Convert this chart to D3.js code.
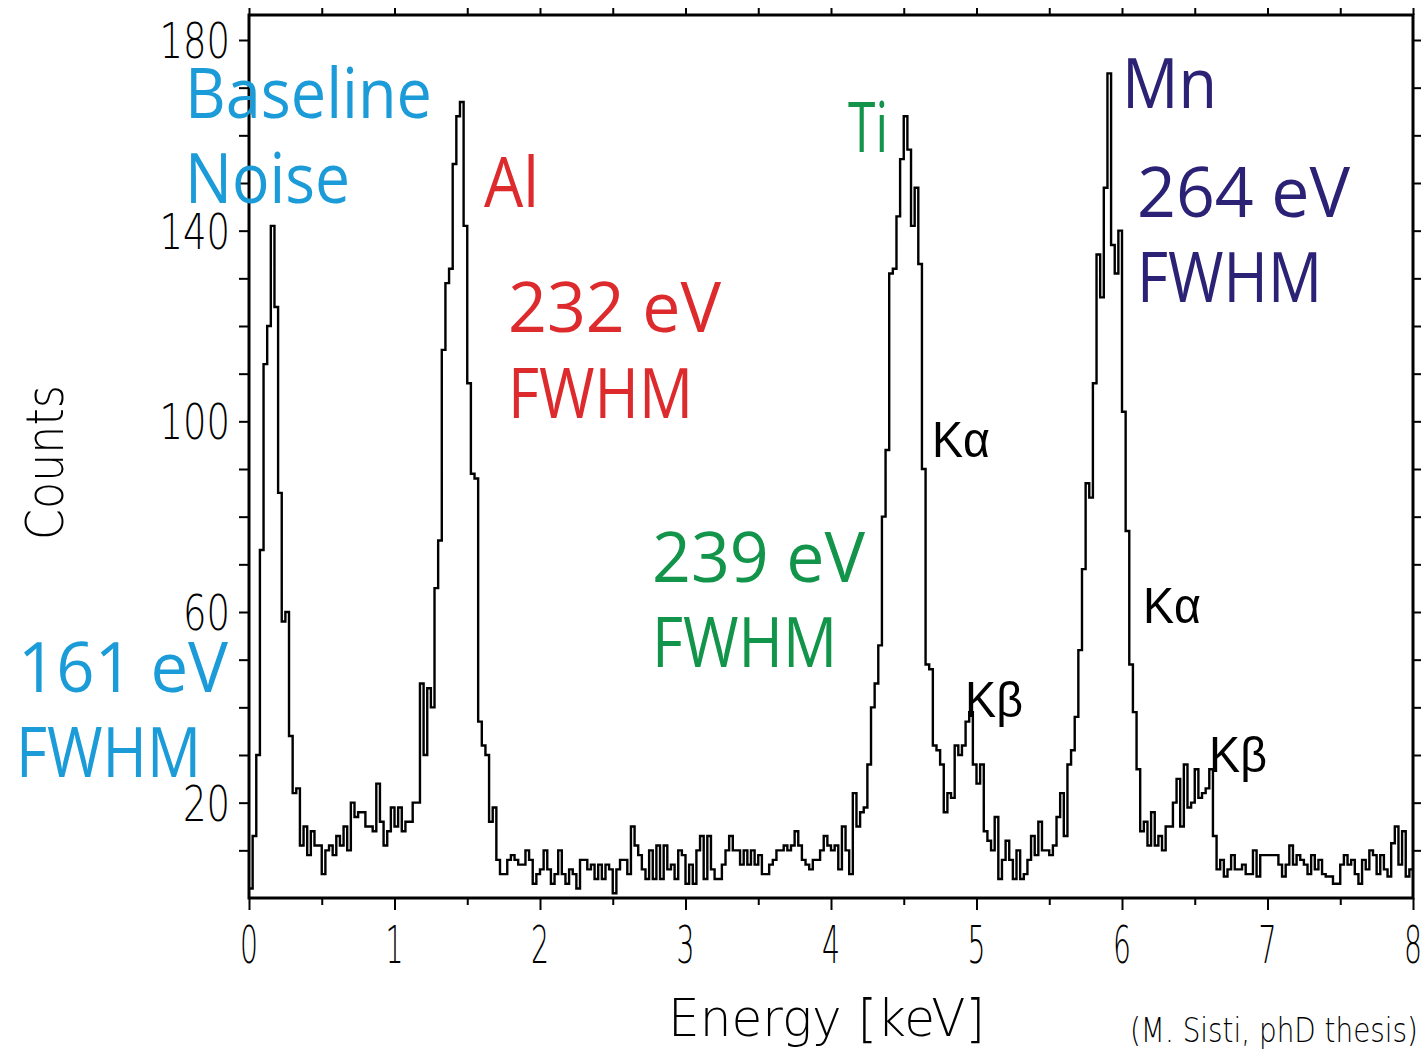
<!DOCTYPE html>
<html>
<head>
<meta charset="utf-8">
<script src="https://cdn.jsdelivr.net/npm/d3@7"></script>
<style>
  body { margin: 0; background: #fff; }
  svg { display: block; }
</style>
</head>
<body>
<script>

// spectrum: counts per 25 eV bin, 0 - 8 keV
const binWidth = 0.025
const counts = [
  2, 13, 30, 73, 112, 120, 141, 124, 85, 58, 60, 34, 22, 23, 11, 15, 9, 14, 11, 11,
  5, 10, 11, 9, 13, 11, 15, 10, 20, 17, 18, 18, 15, 15, 14, 24, 16, 11, 14, 19,
  15, 19, 14, 16, 16, 20, 20, 45, 30, 44, 40, 65, 75, 115, 129, 132, 154, 164, 167, 141,
  108, 89, 88, 37, 32, 30, 16, 19, 8, 5, 5, 8, 9, 8, 7, 7, 10, 8, 3, 5,
  6, 10, 6, 3, 5, 10, 5, 3, 6, 5, 2, 8, 8, 6, 7, 4, 7, 4, 7, 6,
  1, 6, 8, 8, 5, 15, 11, 9, 6, 4, 10, 4, 11, 4, 11, 6, 7, 4, 10, 9,
  3, 7, 3, 10, 13, 4, 13, 6, 4, 4, 7, 10, 13, 10, 10, 7, 10, 7, 10, 7,
  9, 5, 5, 7, 8, 10, 10, 11, 10, 11, 14, 11, 8, 7, 6, 8, 8, 10, 13, 11,
  10, 11, 6, 15, 10, 5, 22, 15, 18, 19, 28, 40, 45, 53, 80, 94, 131, 132, 143, 155,
  164, 157, 141, 149, 133, 90, 49, 48, 32, 31, 28, 18, 22, 21, 32, 30, 32, 37, 39, 28,
  24, 28, 14, 12, 10, 17, 4, 8, 12, 8, 4, 10, 4, 5, 8, 13, 9, 16, 10, 10,
  9, 11, 17, 22, 13, 28, 31, 38, 52, 69, 87, 84, 108, 135, 126, 149, 173, 137, 131, 140,
  102, 77, 49, 39, 27, 14, 16, 11, 18, 11, 13, 10, 15, 15, 20, 25, 15, 28, 19, 20,
  27, 21, 22, 23, 27, 13, 6, 8, 4.5, 6, 9, 6, 6, 7, 5, 5, 10, 4.5, 9, 9,
  9, 9, 9, 7, 4.5, 7, 11, 7, 9, 8, 7, 5, 9, 6, 8, 5, 4.5, 4.5, 3, 3,
  7, 9, 7, 8, 5, 3, 8, 6, 10, 9, 5, 9, 6, 4.5, 11.5, 15, 7, 14, 4.5, 6
]

const xTickValues = [0, 1, 2, 3, 4, 5, 6, 7, 8]
const xMinorValues = [0.5, 1.5, 2.5, 3.5, 4.5, 5.5, 6.5, 7.5]
const yTickValues = [10, 20, 30, 40, 50, 60, 70, 80, 90, 100, 110, 120, 130, 140, 150, 160, 170, 180]
const yLabelValues = [20, 60, 100, 140, 180]

const blue = '#1b9bd8'
const red = '#dd2a2c'
const green = '#12954a'
const navy = '#2b2276'

const w = 1422
const h = 1050
const plotLeft = 249
const plotRight = 1413
const plotTop = 15
const plotBottom = 898

const xScale = d3.scaleLinear().domain([0, 8]).range([plotLeft, plotRight])
const yScale = d3.scaleLinear().domain([0, 180]).range([plotBottom, 40])

const svg = d3.select('body')
  .append('svg')
  .attr('width', w)
  .attr('height', h)

// histogram
const points = counts.map((c, i) => [i * binWidth, c])
points.push([counts.length * binWidth, counts[counts.length - 1]])

const line = d3.line()
  .x(d => xScale(d[0]))
  .y(d => yScale(d[1]))
  .curve(d3.curveStepAfter)

svg.append('path')
  .datum(points)
  .attr('d', line)
  .attr('fill', 'none')
  .attr('stroke', '#000')
  .attr('stroke-width', 2.4)
  .attr('stroke-linejoin', 'miter')

// frame + ticks
const axisColor = '#000'
const bottomAxis = d3.axisBottom(xScale).tickValues(xTickValues).tickSize(12).tickFormat('')
const bottomMinor = d3.axisBottom(xScale).tickValues(xMinorValues).tickSize(7).tickFormat('')
const topAxis = d3.axisTop(xScale).tickValues(xTickValues.concat(xMinorValues)).tickSize(7).tickFormat('')
const leftAxis = d3.axisLeft(yScale).tickValues(yTickValues).tickSize(10).tickFormat('')
const rightAxis = d3.axisRight(yScale).tickValues(yTickValues).tickSize(8).tickFormat('')

const addAxis = (axis, tx, ty) => {
  const g = svg.append('g')
    .attr('transform', `translate(${tx}, ${ty})`)
    .call(axis)
  g.select('.domain').remove()
  g.selectAll('line').attr('stroke', axisColor).attr('stroke-width', 2)
}
addAxis(bottomAxis, 0, plotBottom)
addAxis(bottomMinor, 0, plotBottom)
addAxis(topAxis, 0, plotTop)
addAxis(leftAxis, plotLeft, 0)
addAxis(rightAxis, plotRight, 0)

svg.append('rect')
  .attr('x', plotLeft)
  .attr('y', plotTop)
  .attr('width', plotRight - plotLeft)
  .attr('height', plotBottom - plotTop)
  .attr('fill', 'none')
  .attr('stroke', axisColor)
  .attr('stroke-width', 3)

const thinFont = "'DejaVu Sans ExtraLight', 'DejaVu Sans', sans-serif"

svg.append('g').selectAll('text')
  .data(xTickValues)
  .enter()
  .append('text')
  .attr('x', d => xScale(d))
  .attr('y', 963)
  .attr('text-anchor', 'middle')
  .attr('font-family', thinFont)
  .attr('font-weight', 200)
  .attr('font-size', 52)
  .attr('textLength', 18)
  .attr('lengthAdjust', 'spacingAndGlyphs')
  .attr('fill', '#000')
  .text(d => d)

svg.append('g').selectAll('text')
  .data(yLabelValues)
  .enter()
  .append('text')
  .attr('x', 230)
  .attr('y', d => yScale(d) + 18)
  .attr('text-anchor', 'end')
  .attr('font-family', thinFont)
  .attr('font-weight', 200)
  .attr('font-size', 49)
  .attr('textLength', d => String(d).length * 23.5)
  .attr('lengthAdjust', 'spacingAndGlyphs')
  .attr('fill', '#000')
  .text(d => d)

svg.append('text')
  .attr('transform', 'translate(63, 540) rotate(-90)')
  .attr('font-family', thinFont)
  .attr('font-weight', 200)
  .attr('font-size', 52)
  .attr('textLength', 155)
  .attr('lengthAdjust', 'spacingAndGlyphs')
  .attr('fill', '#000')
  .text('Counts')

svg.append('text')
  .attr('x', 668)
  .attr('y', 1036)
  .attr('font-family', thinFont)
  .attr('font-weight', 200)
  .attr('font-size', 52)
  .attr('textLength', 317)
  .attr('lengthAdjust', 'spacingAndGlyphs')
  .attr('fill', '#000')
  .text('Energy [keV]')

svg.append('text')
  .attr('x', 1130)
  .attr('y', 1042)
  .attr('font-family', thinFont)
  .attr('font-weight', 200)
  .attr('font-size', 33)
  .attr('textLength', 288)
  .attr('lengthAdjust', 'spacingAndGlyphs')
  .attr('fill', '#000')
  .text('(M. Sisti, phD thesis)')

// coloured annotations
const note = (txt, color, x, y, len) => {
  svg.append('text')
    .attr('x', x)
    .attr('y', y)
    .attr('font-family', "'Open Sans', 'DejaVu Sans', sans-serif")
    .attr('font-size', 70)
    .attr('textLength', len)
    .attr('lengthAdjust', 'spacingAndGlyphs')
    .attr('fill', color)
    .text(txt)
}
note('Baseline', blue, 185, 118, 247)
note('Noise', blue, 185, 203, 165)
note('161 eV', blue, 18, 692, 210)
note('FWHM', blue, 16, 777, 185)
note('Al', red, 484, 207, 55)
note('232 eV', red, 508, 332, 213)
note('FWHM', red, 508, 418, 185)
note('Ti', green, 848, 152, 40)
note('239 eV', green, 652, 582, 213)
note('FWHM', green, 652, 667, 185)
note('Mn', navy, 1122, 108, 95)
note('264 eV', navy, 1137, 217, 213)
note('FWHM', navy, 1137, 302, 185)

const lineLabel = (txt, x, y) => {
  svg.append('text')
    .attr('x', x)
    .attr('y', y)
    .attr('font-family', "'Liberation Sans', sans-serif")
    .attr('font-size', 50)
    .attr('textLength', 58)
    .attr('lengthAdjust', 'spacingAndGlyphs')
    .attr('fill', '#000')
    .text(txt)
}
lineLabel('Kα', 932, 457)
lineLabel('Kβ', 965, 717)
lineLabel('Kα', 1143, 623)
lineLabel('Kβ', 1209, 772)

</script>
</body>
</html>
